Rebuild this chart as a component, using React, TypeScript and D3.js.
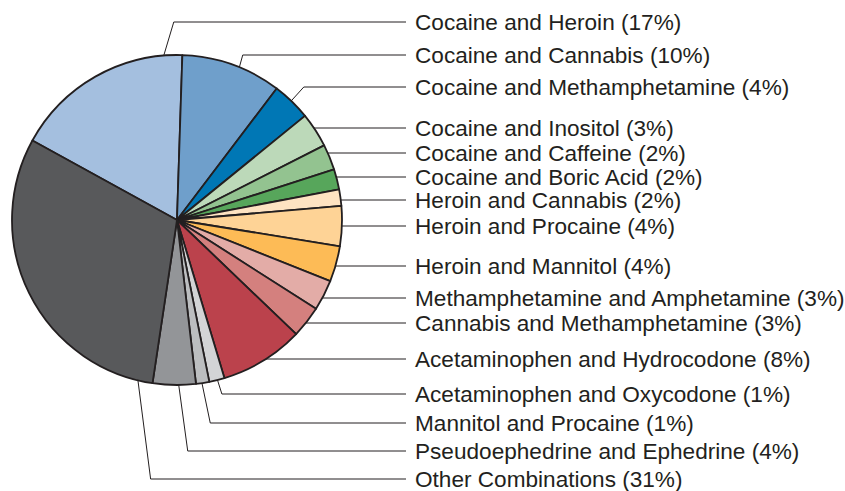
import React, { useEffect, useRef } from 'react';
import * as d3 from 'd3';

// Drug combination shares, clockwise from the upper-left edge of the first slice.
const categories = [
  'Cocaine and Heroin',
  'Cocaine and Cannabis',
  'Cocaine and Methamphetamine',
  'Cocaine and Inositol',
  'Cocaine and Caffeine',
  'Cocaine and Boric Acid',
  'Heroin and Cannabis',
  'Heroin and Procaine',
  'Heroin and Mannitol',
  'Methamphetamine and Amphetamine',
  'Cannabis and Methamphetamine',
  'Acetaminophen and Hydrocodone',
  'Acetaminophen and Oxycodone',
  'Mannitol and Procaine',
  'Pseudoephedrine and Ephedrine',
  'Other Combinations',
];

// Slice sizes.
const shares = [17.5, 9.8, 3.8, 3.4, 2.5, 2.0, 1.6, 3.9, 3.5, 3.0, 3.1, 8.2, 1.5, 1.3, 4.2, 30.6];

// Rounded percentages printed in the labels.
const printedPct = [17, 10, 4, 3, 2, 2, 2, 4, 4, 3, 3, 8, 1, 1, 4, 31];

const colors = [
  '#a4bfdf', '#6f9fcb', '#0077b5',
  '#bcd9b9', '#93c390', '#57a65b',
  '#fee3c2', '#fed396', '#fdbb56',
  '#e3aca7', '#d4807e', '#bb424c',
  '#d3d4d6', '#bcbec0', '#939598', '#58595b',
];

// Label layout (vertical position of each label line).
const labelY = [22, 55, 87, 128, 153, 177, 200, 226, 266, 298, 323, 359, 394, 423, 451, 479];
// Where an angled leader leaves the pie (degrees clockwise from 12 o'clock); null = straight horizontal.
const leaderAngle = [-4.6, 22.2, 43.8, null, null, null, null, null, null, null, null, null, 165.8, 171.3, 179.4, 193.7];
const elbowDx = [10, 3.4, 12.6, 0, 0, 0, 0, 0, 0, 0, 0, 0, 4.4, 8.3, 9, 12.7];

const App = () => {
  const svgRef = useRef<SVGSVGElement>(null);

  useEffect(() => {
    const svg = d3.select(svgRef.current);
    svg.selectAll('*').remove();

    const width = 845;
    const height = 491;
    const cx = 177;
    const cy = 220;
    const r = 165;
    const lineEnd = 406;
    const textX = 415;
    const ink = '#231f20';

    svg.attr('width', width).attr('height', height);

    const start = (-61.2 * Math.PI) / 180;
    const pie = d3
      .pie<number>()
      .sort(null)
      .value((d) => d)
      .startAngle(start)
      .endAngle(start + 2 * Math.PI);
    const arcs = pie(shares);
    const arc = d3.arc<d3.PieArcDatum<number>>().innerRadius(0).outerRadius(r);

    // leader lines first so the pie outline sits on top of their ends
    const leaders = svg.append('g').attr('fill', 'none').attr('stroke', ink).attr('stroke-width', 1);
    categories.forEach((c, i) => {
      const y = labelY[i];
      const a = leaderAngle[i];
      let pts: [number, number][];
      if (a === null) {
        const x0 = cx + Math.sqrt(r * r - (y - cy) * (y - cy));
        pts = [[x0, y], [lineEnd, y]];
      } else {
        const rad = (a * Math.PI) / 180;
        const px = cx + r * Math.sin(rad);
        const py = cy - r * Math.cos(rad);
        pts = [[px, py], [px + elbowDx[i], y], [lineEnd, y]];
      }
      leaders.append('path').attr('d', d3.line()(pts));
    });

    const g = svg.append('g').attr('transform', `translate(${cx},${cy})`);
    g.selectAll('path')
      .data(arcs)
      .enter()
      .append('path')
      .attr('d', arc)
      .attr('fill', (d, i) => colors[i])
      .attr('stroke', ink)
      .attr('stroke-width', 1.8)
      .attr('stroke-linejoin', 'round');

    svg
      .append('g')
      .selectAll('text')
      .data(categories)
      .enter()
      .append('text')
      .attr('x', textX)
      .attr('y', (d, i) => labelY[i])
      .attr('dy', '0.36em')
      .style('font-family', '"Liberation Sans", Arial, sans-serif')
      .style('font-size', '22.6px')
      .style('fill', ink)
      .text((d, i) => `${d} (${printedPct[i]}%)`);
  }, []);

  return (
    <div style={{ position: 'absolute', left: 0, top: 0, background: '#fff' }}>
      <svg ref={svgRef}></svg>
    </div>
  );
};

export default App;
